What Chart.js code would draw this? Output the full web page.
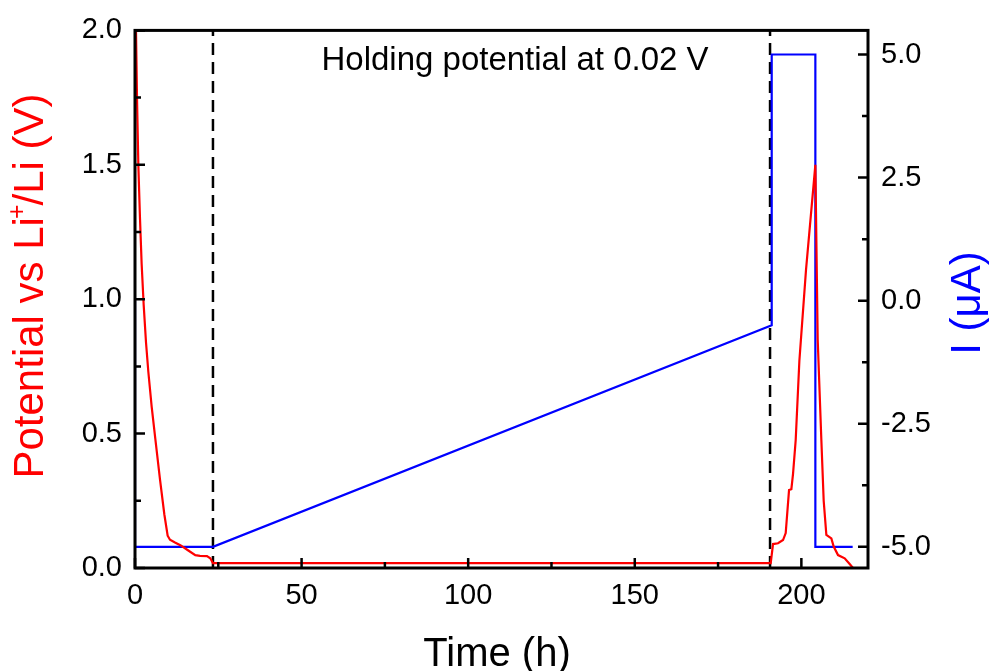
<!DOCTYPE html>
<html>
<head>
<meta charset="utf-8">
<script src="https://cdn.jsdelivr.net/npm/chart.js@4.4.1/dist/chart.umd.min.js"></script>
<style>
  html, body { margin: 0; padding: 0; background: #fff; }
  canvas { display: block; }
</style>
</head>
<body>
<canvas id="chartCanvas" width="992" height="671"></canvas>
<script>
// potential trace (left axis, V)
const potTime = [0.3, 0.6, 1.0, 1.5, 2.0, 2.6, 3.3, 4.0, 5.0, 6.1, 7.5, 8.8, 9.8, 10.5, 12.0, 13.6, 16.0, 18.1, 19.5, 21.6, 22.6, 23.4,
                 190.8, 191.5, 193.0, 194.5, 195.3, 196.3, 197.0, 197.5, 198.3, 199.4, 201.4, 204.2,
                 204.9, 206.0, 206.7, 207.5, 209.0, 209.7, 211.0, 213.0, 214.5, 215.5];
const potVolt = [2.0, 1.75, 1.5, 1.3, 1.13, 0.98, 0.84, 0.73, 0.6, 0.48, 0.33, 0.2, 0.12, 0.105, 0.095, 0.085, 0.065, 0.048, 0.045, 0.044, 0.036, 0.018,
                 0.018, 0.089, 0.092, 0.104, 0.13, 0.29, 0.293, 0.35, 0.476, 0.77, 1.11, 1.5,
                 0.85, 0.476, 0.25, 0.123, 0.11, 0.08, 0.048, 0.036, 0.015, 0.0];

// current trace (right axis, uA)
const curTime = [0, 0, 23.4, 191.1, 191.1, 204.2, 204.2, 215.4];
const curAmp = [0, -5, -5, -0.5, 5, 5, -5, -5];

// dashed markers for the holding step
const holdTimes = [23.4, 190.6];
const noteText = 'Holding potential at 0.02 V';

// tick values
const timeTicks = [0, 25, 50, 75, 100, 125, 150, 175, 200];
const potTicks = [0, 0.25, 0.5, 0.75, 1.0, 1.25, 1.5, 1.75, 2.0];
const curTicks = [-5, -3.75, -2.5, -1.25, 0, 1.25, 2.5, 3.75, 5];

const FONT = "'Liberation Sans', Arial, Helvetica, sans-serif";
Chart.defaults.font.family = FONT;
Chart.defaults.color = '#000';

function zip(xs, ys) {
    return xs.map((x, i) => ({ x: x, y: ys[i] }));
}

const markerSets = holdTimes.map(t => ({
    data: [{ x: t, y: 0 }, { x: t, y: 2 }],
    yAxisID: 'y',
    borderColor: '#000',
    borderWidth: 2.5,
    borderDash: [12, 7],
    pointRadius: 0,
    tension: 0
}));

// frame, inward ticks and all titles
const decorations = {
    id: 'decorations',
    afterDraw(chart) {
        const { ctx, chartArea: a, scales } = chart;
        ctx.save();
        ctx.strokeStyle = '#000';
        ctx.lineWidth = 3;
        ctx.strokeRect(a.left, a.top, a.right - a.left, a.bottom - a.top);

        ctx.lineWidth = 2.5;
        ctx.beginPath();
        scales.x.ticks.forEach(t => {
            const px = scales.x.getPixelForValue(t.value);
            const len = t.label !== '' ? 10 : 6;
            ctx.moveTo(px, a.bottom);
            ctx.lineTo(px, a.bottom - len);
        });
        scales.y.ticks.forEach(t => {
            const py = scales.y.getPixelForValue(t.value);
            const len = t.label !== '' ? 10 : 6;
            ctx.moveTo(a.left, py);
            ctx.lineTo(a.left + len, py);
        });
        scales.y1.ticks.forEach(t => {
            const py = scales.y1.getPixelForValue(t.value);
            const len = t.label !== '' ? 10 : 6;
            ctx.moveTo(a.right, py);
            ctx.lineTo(a.right - len, py);
        });
        ctx.stroke();

        // note
        ctx.fillStyle = '#000';
        ctx.font = '33px ' + FONT;
        ctx.textAlign = 'center';
        ctx.textBaseline = 'alphabetic';
        ctx.fillText(noteText, 515, 70);

        // x title
        ctx.font = '40px ' + FONT;
        ctx.fillText('Time (h)', 497, 666);

        // left title with superscript
        ctx.save();
        ctx.translate(43, 286);
        ctx.rotate(-Math.PI / 2);
        ctx.fillStyle = '#ff0000';
        ctx.textAlign = 'left';
        const p1 = 'Potential vs Li', sup = '+', p2 = '/Li (V)';
        ctx.font = '42px ' + FONT;
        const w1 = ctx.measureText(p1).width;
        const w2 = ctx.measureText(p2).width;
        ctx.font = '25px ' + FONT;
        const ws = ctx.measureText(sup).width - 3;
        const x0 = -(w1 + ws + w2) / 2;
        ctx.font = '42px ' + FONT;
        ctx.fillText(p1, x0, 0);
        ctx.fillText(p2, x0 + w1 + ws, 0);
        ctx.font = '25px ' + FONT;
        ctx.fillText(sup, x0 + w1 - 2, -18);
        ctx.restore();

        // right title
        ctx.save();
        ctx.translate(980, 303);
        ctx.rotate(-Math.PI / 2);
        ctx.fillStyle = '#0000ff';
        ctx.font = '42px ' + FONT;
        ctx.textAlign = 'center';
        ctx.fillText('I (\u03bcA)', 0, 0);
        ctx.restore();

        ctx.restore();
    }
};

const ctx = document.getElementById('chartCanvas').getContext('2d');
new Chart(ctx, {
    type: 'line',
    data: {
        datasets: [
            {
                label: 'Potential',
                data: zip(potTime, potVolt),
                yAxisID: 'y',
                borderColor: '#ff0000',
                borderWidth: 2.2,
                pointRadius: 0,
                tension: 0
            },
            {
                label: 'Current',
                data: zip(curTime, curAmp),
                yAxisID: 'y1',
                borderColor: '#0000ff',
                borderWidth: 2.2,
                pointRadius: 0,
                tension: 0
            },
            ...markerSets
        ]
    },
    options: {
        responsive: false,
        animation: false,
        layout: { padding: { top: 30, left: 0, right: 0, bottom: 0 } },
        plugins: { legend: { display: false }, tooltip: { enabled: false } },
        scales: {
            x: {
                type: 'linear',
                min: 0,
                max: 220,
                grid: { display: false, drawTicks: false },
                border: { display: false },
                afterBuildTicks: s => { s.ticks = timeTicks.map(v => ({ value: v })); },
                afterFit: s => { s.height = 103; },
                ticks: {
                    autoSkip: false,
                    maxRotation: 0,
                    padding: 11,
                    font: { size: 29 },
                    callback: v => (v % 50 === 0 ? String(v) : '')
                }
            },
            y: {
                position: 'left',
                min: 0,
                max: 2,
                grid: { display: false, drawTicks: false },
                border: { display: false },
                afterBuildTicks: s => { s.ticks = potTicks.map(v => ({ value: v })); },
                afterFit: s => { s.width = 135; },
                ticks: {
                    autoSkip: false,
                    padding: 13,
                    font: { size: 29 },
                    callback: v => (Math.abs(v % 0.5) < 1e-9 ? v.toFixed(1) : '')
                }
            },
            y1: {
                position: 'right',
                min: -5.43,
                max: 5.49,
                grid: { display: false, drawTicks: false },
                border: { display: false },
                afterBuildTicks: s => { s.ticks = curTicks.map(v => ({ value: v })); },
                afterFit: s => { s.width = 124; },
                ticks: {
                    autoSkip: false,
                    padding: 13,
                    font: { size: 29 },
                    callback: v => (Math.abs(v % 2.5) < 1e-9 ? v.toFixed(1) : '')
                }
            }
        }
    },
    plugins: [decorations]
});
</script>
</body>
</html>
